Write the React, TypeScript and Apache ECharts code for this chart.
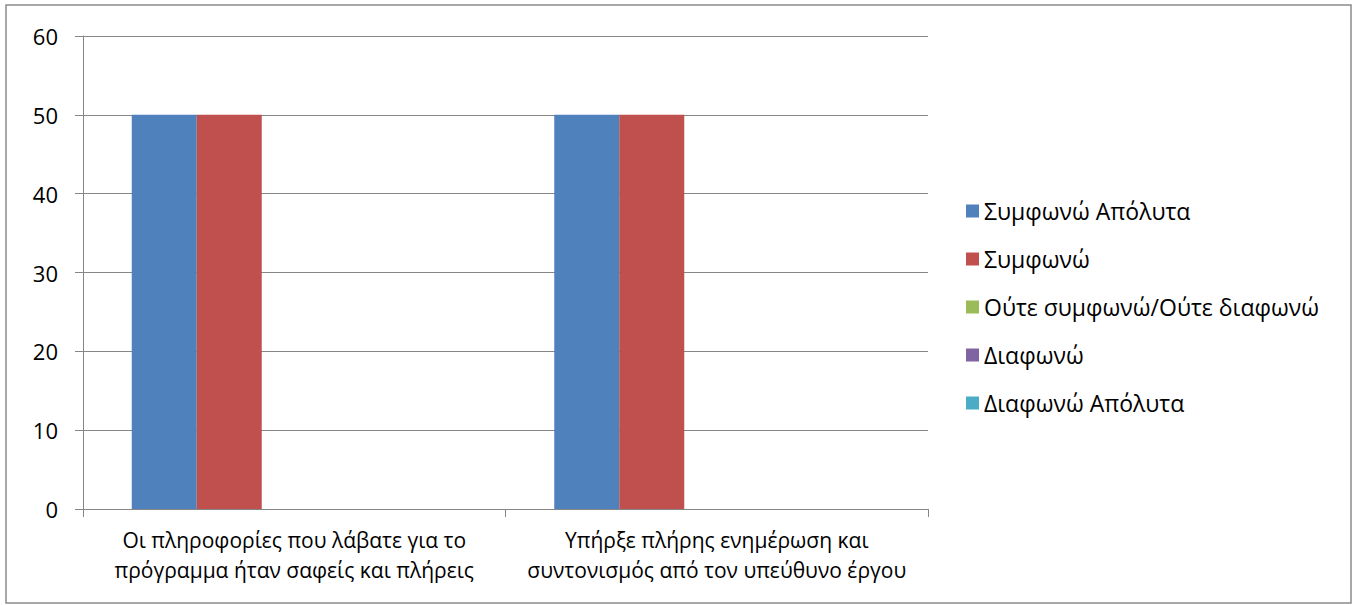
import React, { useEffect, useRef } from "react";
import * as echarts from "echarts";

const categories = [
  "Οι πληροφορίες που λάβατε για το\nπρόγραμμα ήταν σαφείς και πλήρεις",
  "Υπήρξε πλήρης ενημέρωση και\nσυντονισμός από τον υπεύθυνο έργου",
];
const seriesNames = [
  "Συμφωνώ Απόλυτα",
  "Συμφωνώ",
  "Ούτε συμφωνώ/Ούτε διαφωνώ",
  "Διαφωνώ",
  "Διαφωνώ Απόλυτα",
];
const seriesValues = [
  [50, 50],
  [50, 50],
  [0, 0],
  [0, 0],
  [0, 0],
];
const colors = ["#4F81BD", "#C0504D", "#9BBB59", "#8064A2", "#4BACC6"];

export default function App() {
  const ref = useRef<HTMLDivElement>(null);
  useEffect(() => {
    if (!ref.current) return;
    const chart = echarts.init(ref.current, null, { renderer: "svg" });
    const font = "'Open Sans', 'Noto Sans', sans-serif";
    chart.setOption({
      animation: false,
      backgroundColor: "#fff",
      textStyle: { fontFamily: font },
      grid: { left: 83, right: 427, top: 36, bottom: 96 },
      graphic: [
        {
          type: "rect",
          shape: { x: 6, y: 5, width: 1345, height: 598 },
          style: { fill: "none", stroke: "#8c8c8c", lineWidth: 1.5 },
          silent: true,
        },
      ],
      legend: {
        orient: "vertical",
        left: 961,
        top: 192,
        icon: "rect",
        itemWidth: 13,
        itemHeight: 13,
        itemGap: 20,
        textStyle: { fontSize: 23, color: "#000", fontFamily: font, lineHeight: 28 },
        data: seriesNames,
      },
      xAxis: {
        type: "category",
        data: categories,
        axisLine: { show: true, lineStyle: { color: "#868686", width: 1 } },
        axisTick: { show: true, alignWithLabel: false, length: 8, lineStyle: { color: "#868686" } },
        axisLabel: {
          fontSize: 21,
          color: "#000",
          lineHeight: 30,
          margin: 16,
          fontFamily: font,
          interval: 0,
        },
        splitLine: { show: false },
      },
      yAxis: {
        type: "value",
        min: 0,
        max: 60,
        interval: 10,
        axisLine: { show: true, lineStyle: { color: "#868686", width: 1 } },
        axisTick: { show: true, length: 8, lineStyle: { color: "#868686" } },
        axisLabel: { fontSize: 22, color: "#000", margin: 25, fontFamily: font },
        splitLine: { show: true, lineStyle: { color: "#868686", width: 1 } },
      },
      series: seriesNames.map((name, i) => ({
        name,
        type: "bar",
        data: seriesValues[i],
        barWidth: 65,
        barGap: "0%",
        itemStyle: { color: colors[i] },
      })),
    });
    return () => chart.dispose();
  }, []);
  return (
    <div
      ref={ref}
      style={{ position: "fixed", left: 0, top: 0, width: 1355, height: 605 }}
    />
  );
}
